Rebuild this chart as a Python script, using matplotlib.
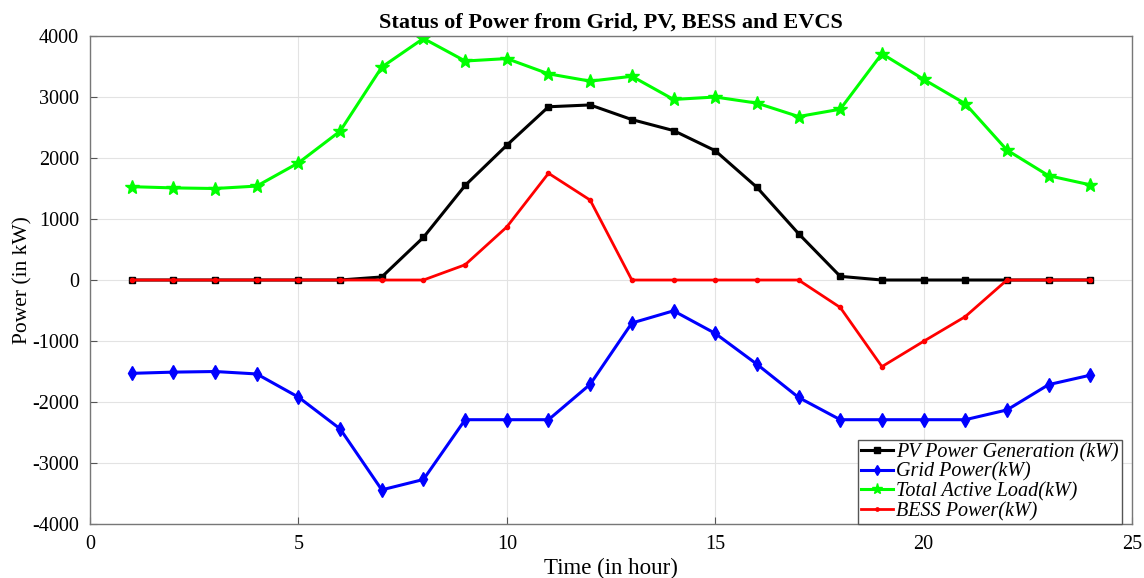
import matplotlib
matplotlib.use("Agg")
import matplotlib.pyplot as plt

# ----------------------------
# Data
# ----------------------------
hours = list(range(1, 25))

pv_power = [0, 0, 0, 0, 0, 0, 50, 700, 1550, 2210, 2840, 2870,
            2630, 2450, 2120, 1520, 760, 60, 0, 0, 0, 0, 0, 0]

grid_power = [-1530, -1510, -1500, -1540, -1920, -2440, -3440, -3270,
              -2290, -2290, -2290, -1710, -705, -505, -875, -1380,
              -1925, -2290, -2290, -2290, -2290, -2130, -1715, -1560]

total_load = [1530, 1510, 1500, 1540, 1920, 2440, 3490, 3960, 3590,
              3630, 3380, 3260, 3340, 2960, 3000, 2900, 2680, 2800,
              3710, 3290, 2890, 2130, 1710, 1560]

bess_power = [0, 0, 0, 0, 0, 0, 0, 0, 250, 870, 1750, 1310,
              0, 0, 0, 0, 0, -450, -1420, -1005, -600, 0, 0, 0]

labels = ["PV Power Generation (kW)", "Grid Power(kW)",
          "Total Active Load(kW)", "BESS Power(kW)"]

# ----------------------------
# Plot
# ----------------------------
plt.rcParams["font.family"] = ["Liberation Serif", "DejaVu Serif"]
plt.rcParams["axes.unicode_minus"] = False

fig = plt.figure(figsize=(11.44, 5.78), dpi=100)
ax = fig.add_axes([0.0787, 0.0934, 0.9108, 0.8443])

ax.plot(hours, pv_power, color="black", lw=2.2, marker="s", ms=5, label=labels[0])
ax.plot(hours, grid_power, color="#0000ff", lw=2.2, marker="d", ms=7, label=labels[1])
ax.plot(hours, total_load, color="#00ff00", lw=2.2, marker="*", ms=10, label=labels[2])
ax.plot(hours, bess_power, color="#ff0000", lw=2.0, marker=".", ms=6, label=labels[3])

ax.set_xlim(0, 25)
ax.set_ylim(-4000, 4000)
ax.set_xticks([0, 5, 10, 15, 20, 25])
ax.set_yticks(range(-4000, 4001, 1000))
ax.tick_params(labelsize=14.5, direction="in", length=5, color="#555555", pad=8)
ax.grid(True, color="#e3e3e3", lw=0.8)
for s in ax.spines.values():
    s.set_color("#777777")
    s.set_linewidth(1.0)

ax.set_title("Status of Power from Grid, PV, BESS and EVCS",
             fontsize=16, fontweight="bold", pad=6)
ax.set_xlabel("Time (in hour)", fontsize=16.5, labelpad=3)
ax.set_ylabel("Power (in kW)", fontsize=15.5, labelpad=0)

leg = ax.legend(loc="lower right", bbox_to_anchor=(0.99, 0.0),
                prop={"style": "italic", "size": 14.5},
                fancybox=False, framealpha=1, edgecolor="#555555",
                borderpad=0.15, labelspacing=0.02, handlelength=1.6,
                handletextpad=0.15, borderaxespad=0.0, markerscale=0.8)
leg.get_frame().set_linewidth(1.0)

fig.savefig("out.png", dpi=100)
